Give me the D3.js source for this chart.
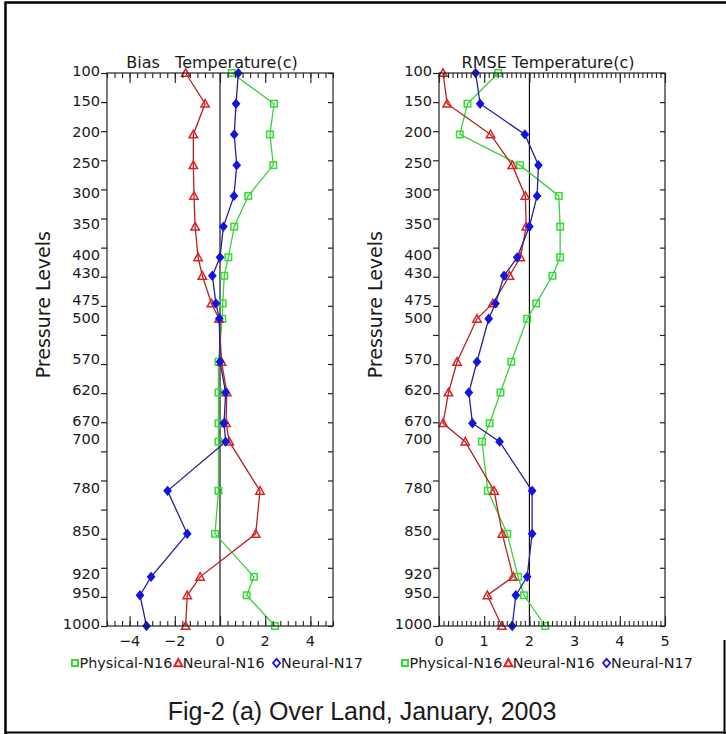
<!DOCTYPE html>
<html>
<head>
<meta charset="utf-8">
<script src="https://cdn.jsdelivr.net/npm/d3@7"></script>
<style>
  html, body { margin: 0; padding: 0; background: #fff; }
  svg { display: block; }
  text { font-family: "DejaVu Sans", sans-serif; fill: #1a1a1a; }
</style>
</head>
<body>
<script>
// ---------------- DATA ----------------
const levels = [100,150,200,250,300,350,400,430,475,500,570,620,670,700,780,850,920,950,1000];
const levelLabels = ["100","150","200","250","300","350","400","430","475","500","570","620","670","700","780","850","920","950","1000"];

// Bias (left panel)
const biasPhysicalN16 = [0.52,2.39,2.21,2.36,1.25,0.63,0.37,0.19,0.12,0.10,-0.07,-0.07,-0.07,-0.07,-0.07,-0.22,1.50,1.18,2.43];
const biasNeuralN16   = [-1.52,-0.66,-1.18,-1.18,-1.15,-1.10,-0.97,-0.78,-0.38,-0.04,0.07,0.30,0.27,0.41,1.77,1.58,-0.88,-1.45,-1.52];
const biasNeuralN17   = [0.81,0.71,0.63,0.74,0.62,0.15,0.00,-0.34,-0.18,-0.03,0.00,0.25,0.18,0.25,-2.32,-1.45,-3.05,-3.54,-3.25];

// RMSE (right panel)
const rmsePhysicalN16 = [1.31,0.63,0.46,1.79,2.65,2.68,2.68,2.51,2.15,1.95,1.60,1.36,1.12,0.95,1.08,1.51,1.75,1.88,2.35];
const rmseNeuralN16   = [0.09,0.18,1.14,1.62,1.91,1.93,1.80,1.56,1.19,0.84,0.40,0.21,0.09,0.58,1.22,1.40,1.64,1.07,1.39];
const rmseNeuralN17   = [0.81,0.91,1.90,2.20,2.17,2.00,1.73,1.44,1.25,1.10,0.84,0.66,0.74,1.34,2.06,2.06,1.95,1.70,1.62];

const biasXTickLabels = [-4,-2,0,2,4];
const rmseXTickLabels = [0,1,2,3,4,5];
const seriesNames = ["Physical-N16","Neural-N16","Neural-N17"];
const titles = ["Bias   Temperature(c)", "RMSE Temperature(c)"];
const yAxisTitle = "Pressure Levels";
const caption = "Fig-2 (a) Over Land, January, 2003";

// ---------------- STYLE ----------------
const W = 726, H = 734;
const colors = {
  phys:  {line: "#3fcf3f", mark: "#33dd33"},
  n16:   {line: "#b52222", mark: "#dd2222"},
  n17:   {line: "#22229a", mark: "#1515e0"}
};
// small vertical nudges for the two crowded level labels
const labelNudge = {"475": -1, "500": 1.5};

const svg = d3.select("body").append("svg").attr("width", W).attr("height", H);

// outer frame
svg.append("rect").attr("x", 0).attr("y", 0).attr("width", W).attr("height", H).attr("fill", "#fff");
svg.append("path").attr("d", "M5.5,734 V2.5 H726").attr("fill", "none").attr("stroke", "#000").attr("stroke-width", 2.5);
svg.append("path").attr("d", "M5,732.5 H726").attr("fill", "none").attr("stroke", "#000").attr("stroke-width", 2);
svg.append("path").attr("d", "M724.5,640 V734").attr("fill", "none").attr("stroke", "#000").attr("stroke-width", 2);

const yTop = 73, yBot = 626;
const y = d3.scaleLinear().domain([100, 1000]).range([yTop, yBot]);
// 20 evenly spaced tick marks (19 intervals) as drawn in the original
const yTickMarks = d3.range(20).map(k => 100 + k * 900 / 19);

function panel(cfg) {
  const x = d3.scaleLinear().domain(cfg.domain).range([cfg.x0, cfg.x1]);
  const g = svg.append("g");

  // centre reference line
  g.append("line")
    .attr("x1", x(cfg.refLine)).attr("x2", x(cfg.refLine))
    .attr("y1", yTop).attr("y2", yBot)
    .attr("stroke", "#000").attr("stroke-width", 1.1);

  // series
  const series = [
    {vals: cfg.phys, c: colors.phys, sym: "square"},
    {vals: cfg.n16,  c: colors.n16,  sym: "triangle"},
    {vals: cfg.n17,  c: colors.n17,  sym: "diamond"}
  ];
  const line = d3.line().x(d => x(d.v)).y(d => y(d.p));
  series.forEach(s => {
    const pts = levels.map((p, i) => ({p, v: s.vals[i]}));
    g.append("path").datum(pts).attr("d", line)
      .attr("fill", "none").attr("stroke", s.c.line).attr("stroke-width", 1.3);
    pts.forEach(d => drawMarker(g, s.sym, x(d.v), y(d.p), s.c.mark, false));
  });

  // frame
  g.append("rect").attr("x", cfg.x0).attr("y", yTop)
    .attr("width", cfg.x1 - cfg.x0).attr("height", yBot - yTop)
    .attr("fill", "none").attr("stroke", "#222").attr("stroke-width", 1.2);

  // y ticks: left outward, right inward
  g.append("g").attr("transform", `translate(${cfg.x0},0)`)
    .call(d3.axisLeft(y).tickValues(yTickMarks).tickSize(6).tickFormat(""))
    .call(a => a.select(".domain").remove())
    .selectAll("line").attr("stroke", "#222").attr("stroke-width", 1.2);
  g.append("g").attr("transform", `translate(${cfg.x1},0)`)
    .call(d3.axisLeft(y).tickValues(yTickMarks).tickSize(5).tickFormat(""))
    .call(a => a.select(".domain").remove())
    .selectAll("line").attr("stroke", "#222").attr("stroke-width", 1.2);

  // y labels at the actual levels
  g.selectAll(".ylab").data(levelLabels).enter().append("text")
    .attr("x", cfg.x0 - 7)
    .attr("y", (d, i) => y(levels[i]) + 2.5 + (labelNudge[d] || 0))
    .attr("text-anchor", "end").attr("font-size", 14.6).text(d => d);

  // x ticks (inward) top & bottom: minor + major
  [[yTop, 1], [yBot, -1]].forEach(([yy, dir]) => {
    const axis = (dir === 1 ? d3.axisBottom(x) : d3.axisTop(x));
    g.append("g").attr("transform", `translate(0,${yy})`)
      .call(axis.tickValues(cfg.minorTicks).tickSize(5).tickFormat(""))
      .call(a => a.select(".domain").remove())
      .selectAll("line").attr("stroke", "#222").attr("stroke-width", 1.1);
    const axis2 = (dir === 1 ? d3.axisBottom(x) : d3.axisTop(x));
    g.append("g").attr("transform", `translate(0,${yy})`)
      .call(axis2.tickValues(cfg.majorTicks).tickSize(10).tickFormat(""))
      .call(a => a.select(".domain").remove())
      .selectAll("line").attr("stroke", "#222").attr("stroke-width", 1.1);
  });

  // x tick labels
  g.selectAll(".xlab").data(cfg.majorTicks).enter().append("text")
    .attr("x", d => x(d)).attr("y", yBot + 20)
    .attr("text-anchor", "middle").attr("font-size", 14.5)
    .text(d => (d < 0 ? "\u2212" + Math.abs(d) : String(d)));

  // title
  g.append("text").attr("x", cfg.titleX).attr("y", 68)
    .attr("text-anchor", "middle").attr("font-size", 16)
    .style("white-space", "pre").text(cfg.title);

  // y axis title
  g.append("text")
    .attr("transform", `translate(${cfg.x0 - 57},${y(477)}) rotate(-90)`)
    .attr("text-anchor", "middle").attr("font-size", 19).text(yAxisTitle);

  // legend
  const legY = 663;
  const lg = g.append("g");
  let cx = cfg.legendX;
  series.forEach((s, i) => {
    drawMarker(lg, s.sym, cx + 3, legY, s.c.mark, true);
    const t = lg.append("text").attr("x", cx + 7.5).attr("y", legY + 5)
      .attr("font-size", 14.4).attr("fill", "#222").text(seriesNames[i]);
    cx += 7.5 + t.node().getComputedTextLength() + (i === 0 ? 3 : 9);
  });
}

function drawMarker(g, sym, cx, cy, color, legend) {
  const sw = legend ? 2 : 1.5;
  if (sym === "square") {
    const s = legend ? 6 : 6.5;
    g.append("rect").attr("x", cx - s / 2).attr("y", cy - s / 2)
      .attr("width", s).attr("height", s)
      .attr("fill", "none").attr("stroke", color).attr("stroke-width", sw);
  } else if (sym === "triangle") {
    const s = legend ? 4 : 4.2;
    g.append("path")
      .attr("d", `M${cx},${cy - s} L${cx + s},${cy + s * 0.8} L${cx - s},${cy + s * 0.8} Z`)
      .attr("fill", "none").attr("stroke", color).attr("stroke-width", sw);
  } else {
    const s = legend ? 4.2 : 4;
    g.append("path")
      .attr("d", `M${cx},${cy - s} L${cx + s * 0.85},${cy} L${cx},${cy + s} L${cx - s * 0.85},${cy} Z`)
      .attr("fill", legend ? "none" : color).attr("stroke", color).attr("stroke-width", legend ? 1.8 : sw);
  }
}

panel({
  domain: [-5, 5], x0: 107, x1: 333, refLine: 0,
  phys: biasPhysicalN16, n16: biasNeuralN16, n17: biasNeuralN17,
  minorTicks: d3.range(31).map(k => -5 + k / 3),
  majorTicks: biasXTickLabels,
  title: titles[0], titleX: 212, legendX: 72
});
panel({
  domain: [0, 5], x0: 439, x1: 665, refLine: 2,
  phys: rmsePhysicalN16, n16: rmseNeuralN16, n17: rmseNeuralN17,
  minorTicks: d3.range(51).map(k => k / 10),
  majorTicks: rmseXTickLabels,
  title: titles[1], titleX: 548, legendX: 402
});

// caption
svg.append("text").attr("x", 362).attr("y", 720)
  .attr("text-anchor", "middle")
  .style("font-family", "'Liberation Sans', Arial, sans-serif")
  .attr("font-size", 25).attr("fill", "#111").text(caption);
</script>
</body>
</html>
